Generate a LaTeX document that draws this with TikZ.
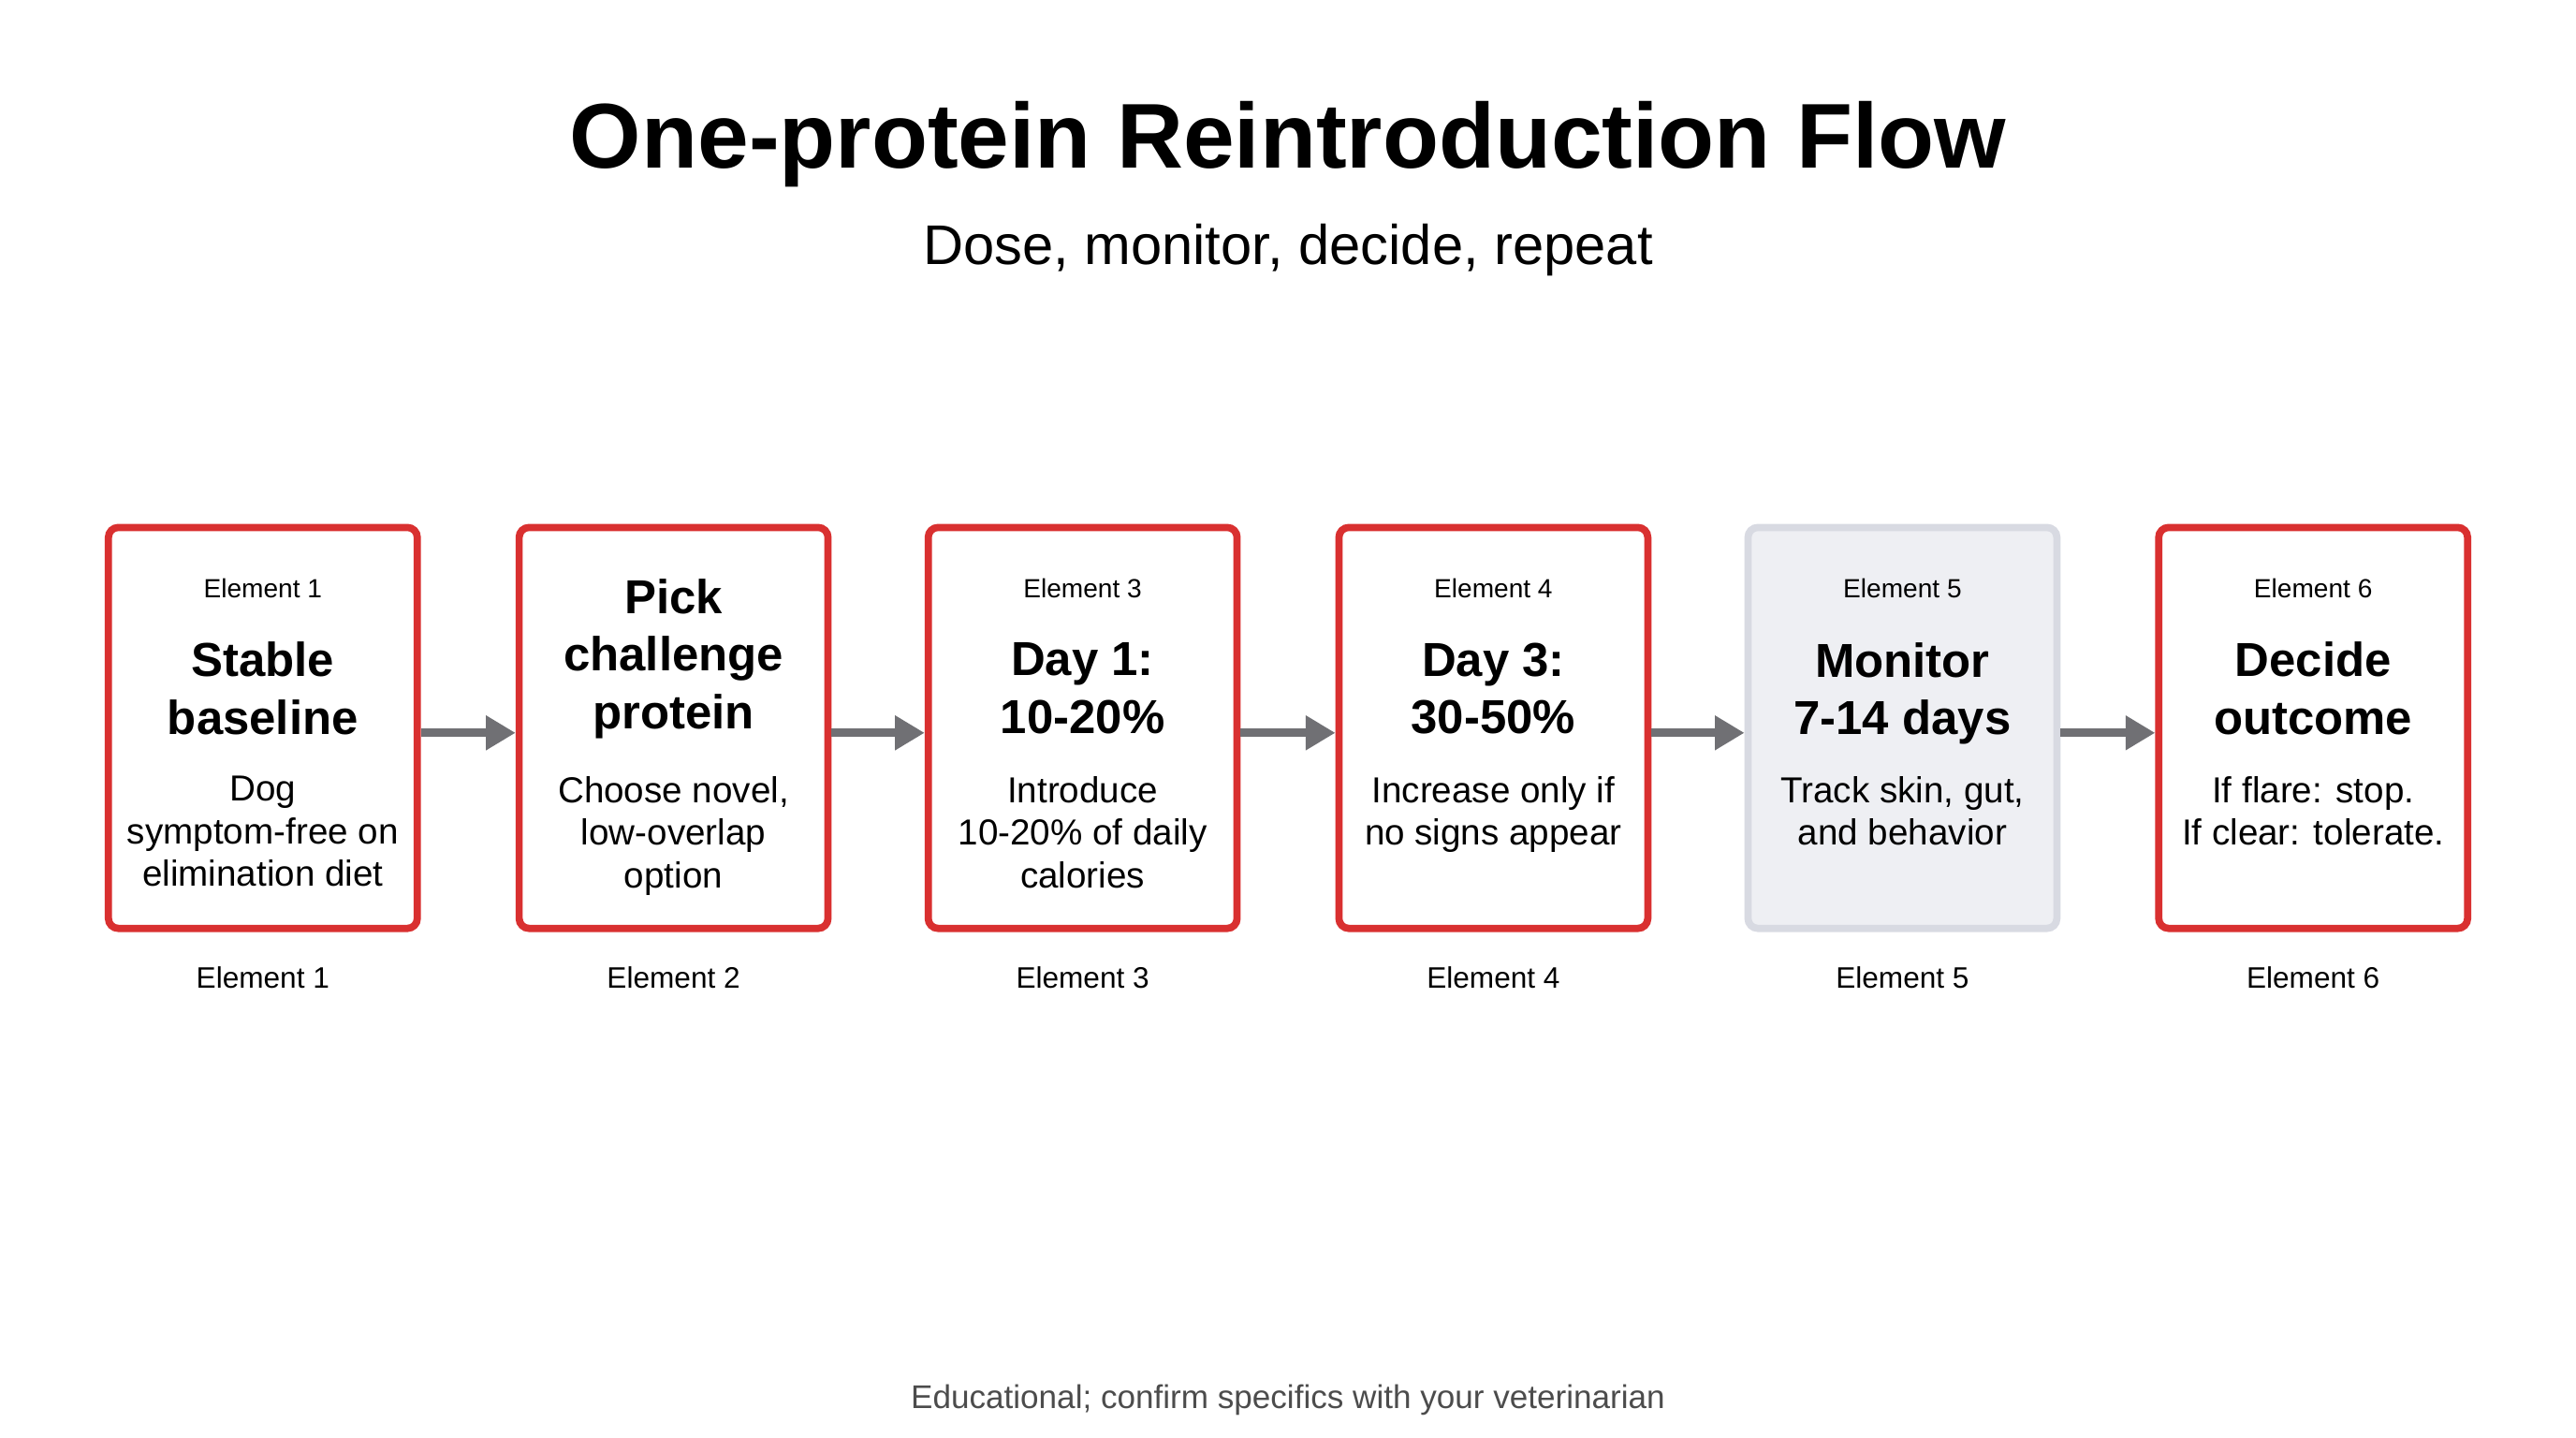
\documentclass[tikz,border=0pt]{standalone}
\usepackage{fontspec}
\setmainfont{Liberation Sans}
\usetikzlibrary{arrows.meta}
\definecolor{bred}{HTML}{D93030}
\definecolor{gfill}{HTML}{EEEFF3}
\definecolor{gline}{HTML}{D8DAE2}
\definecolor{arr}{HTML}{707074}
\begin{document}
\begin{tikzpicture}[x=0.5pt,y=-0.5pt,
  box/.style={draw=bred,line width=2.2pt,rounded corners=3pt,minimum width=94pt,minimum height=122pt,inner sep=0},
  gbox/.style={box,draw=gline,fill=gfill},
  lab/.style={font=\fontsize{8}{10}\selectfont},
  ttl/.style={font=\fontsize{14.5}{17.5}\selectfont\bfseries,align=center,inner sep=0},
  body/.style={font=\fontsize{11}{13}\selectfont,align=center,anchor=north,inner sep=0},
  under/.style={font=\fontsize{9}{11}\selectfont},
  con/.style={draw=arr,line width=2.5pt,-{Triangle[length=9pt,width=10pt]}}]
\useasboundingbox (0,0) rectangle (1568,875);
\node[font=\fontsize{28}{34}\selectfont\bfseries] (title) at (784,88) {One-protein Reintroduction Flow};
\node[font=\fontsize{17}{20}\selectfont] (sub) at (784,152) {Dose, monitor, decide, repeat};
\foreach \i/\x in {1/160,2/410,3/659,4/909,6/1408}{\node[box] (b\i) at (\x,443) {};}
\node[gbox] (b5) at (1158,443) {};
\foreach \i/\x in {1/160,3/659,4/909,5/1158,6/1408}{\node[lab] (e\i) at (\x,358) {Element \i};}
\foreach \i/\x in {1/160,2/410,3/659,4/909,5/1158,6/1408}{\node[under] (u\i) at (\x,595) {Element \i};}
\node[ttl] (t1) at (160,419) {Stable\\baseline};
\node[ttl] (t2) at (410,401) {Pick\\challenge\\protein};
\node[ttl] (t3) at (659,419) {Day 1:\\10-20\%};
\node[ttl] (t4) at (909,419) {Day 3:\\30-50\%};
\node[ttl] (t5) at (1158,422) {Monitor\\7-14 days};
\node[ttl] (t6) at (1408,419) {Decide\\outcome};
\node[body] (d1) at (160,472) {Dog\\symptom-free on\\elimination diet};
\node[body] (d2) at (410,472) {Choose novel,\\low-overlap\\option};
\node[body] (d3) at (659,472) {Introduce\\10-20\% of daily\\calories};
\node[body] (d4) at (909,472) {Increase only if\\no signs appear};
\node[body] (d5) at (1158,472) {Track skin, gut,\\and behavior};
\node[body] (d6) at (1408,472) {If flare: stop.\\If clear: tolerate.};
\foreach \a/\b in {1/2,2/3,3/4,4/5,5/6}{\draw[con] ([yshift=-1.5pt]b\a.east) -- ([yshift=-1.5pt]b\b.west);}
\node[font=\fontsize{10}{12}\selectfont,text=black!70] (foot) at (784,852) {Educational; confirm specifics with your veterinarian};
\end{tikzpicture}
\end{document}
